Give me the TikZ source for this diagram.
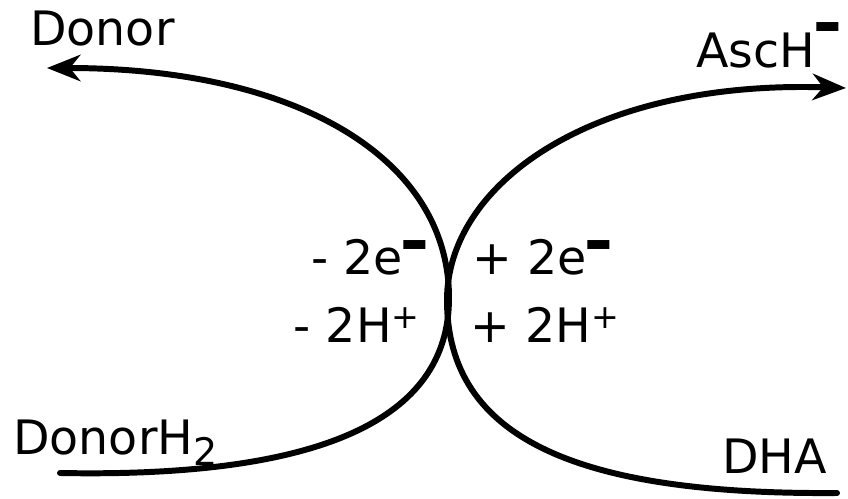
\documentclass[tikz,border=0pt]{standalone}
\usepackage{fontspec}
\setmainfont{DejaVu Sans}
\usepackage{graphicx}
\usetikzlibrary{arrows.meta}

\newcommand{\chargeminus}[1][0.22em]{\raisebox{#1}{\scalebox{0.52}[1.5]{\bfseries —}}}
\newcommand{\chargeplus}{\raisebox{0.3em}{\scalebox{0.7}{+}}}
\newcommand{\lowtwo}{\raisebox{-0.22em}{\scalebox{0.8}{2}}}

\begin{document}
\begin{tikzpicture}[x=0.02cm,y=-0.02cm,
  font=\fontsize{27}{32}\selectfont,
  species/.style={inner sep=0pt},
  redox/.style={line width=3.4pt,line cap=round},
  tip/.style={-{Stealth[length=19pt,width=15pt,inset=6pt]}}]
\useasboundingbox (0,0) rectangle (848,499);

% Donneur
\node[species,anchor=base west] (donor) at (30,46) {Donor};
\node[species,anchor=base west] (donorH) at (13,455) {DonorH\lowtwo};
\coordinate (donorend) at (47,68);
\coordinate (donorHend) at (60,473);
\coordinate (leftmid) at (449,298);

\draw[redox,tip]
(donorHend)
.. controls (320,478) and (449,420) ..
(leftmid)
.. controls (449,160) and (300,68) ..
(donorend);

% Ascorbate
\node[species,anchor=base west] (asch) at (696,68) {AscH\chargeminus[0.45em]};
\node[species,anchor=base west] (dha) at (722,473) {DHA};
\coordinate (aschend) at (846,88);
\coordinate (dhaend) at (837,493);
\coordinate (rightmid) at (447,300);

\draw[redox,tip]
(dhaend)
.. controls (580,495) and (447,440) ..
(rightmid)
.. controls (447,185) and (590,80) ..
(aschend);

% Transfert
\node[species,anchor=base east] (loseE) at (428,275) {- 2e\chargeminus};
\node[species,anchor=base east] (loseH) at (420,343) {- 2H\chargeplus};
\node[species,anchor=base west] (gainE) at (472,275) {+ 2e\chargeminus};
\node[species,anchor=base west] (gainH) at (470,343) {+ 2H\chargeplus};

\end{tikzpicture}
\end{document}
